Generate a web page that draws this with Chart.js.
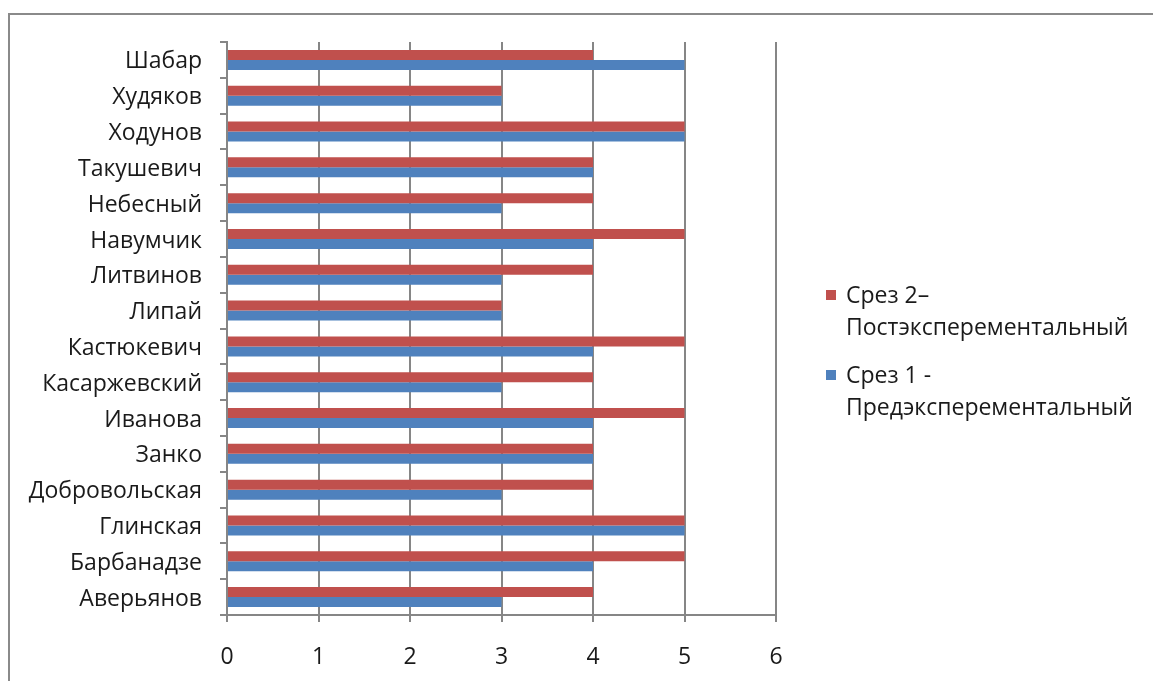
<!DOCTYPE html>
<html>
<head>
<meta charset="utf-8">
<script src="https://cdn.jsdelivr.net/npm/chart.js@4.4.0/dist/chart.umd.min.js"></script>
<style>
    html, body { margin: 0; padding: 0; background: #fff; }
    body { width: 1153px; height: 681px; position: relative; overflow: hidden; font-family: 'Open Sans', sans-serif; }
    #frame { position: absolute; left: 8px; top: 13px; width: 1200px; height: 720px; border-left: 2px solid #8a8a8a; border-top: 2px solid #8a8a8a; }
    #wrap { position: absolute; left: 0; top: 0; width: 1153px; height: 681px; }
    #legend { position: absolute; left: 826px; top: 278px; font-size: 23px; color: #1a1a1a; line-height: 32px; }
    #legend .item { position: relative; padding-left: 20px; margin-bottom: 16px; }
    #legend .box { position: absolute; left: 0; top: 12px; width: 10px; height: 10px; }
</style>
</head>
<body>
<div id="frame"></div>
<div id="wrap"><canvas id="chart"></canvas></div>
<div id="legend"></div>
<script>
// Categories (top to bottom as drawn)
const students = ['Шабар', 'Худяков', 'Ходунов', 'Такушевич', 'Небесный', 'Навумчик', 'Литвинов', 'Липай',
    'Кастюкевич', 'Касаржевский', 'Иванова', 'Занко', 'Добровольская', 'Глинская', 'Барбанадзе', 'Аверьянов'];

// Series values
const post = [4, 3, 5, 4, 4, 5, 4, 3, 5, 4, 5, 4, 4, 5, 5, 4];
const pre  = [5, 3, 5, 4, 3, 4, 3, 3, 4, 3, 4, 4, 3, 5, 4, 3];

const seriesNames = [['Срез 2–', 'Постэксперементальный'], ['Срез 1 -', 'Предэксперементальный']];
const xTicks = [0, 1, 2, 3, 4, 5, 6];

const gridColor = '#868686';
const font = { family: "'Open Sans', sans-serif", size: 23 };

const ctx = document.getElementById('chart').getContext('2d');
const chart = new Chart(ctx, {
    type: 'bar',
    data: {
        labels: students,
        datasets: [
            { label: seriesNames[0].join(' '), data: post, backgroundColor: '#C0504D' },
            { label: seriesNames[1].join(' '), data: pre, backgroundColor: '#4F81BD' }
        ]
    },
    options: {
        indexAxis: 'y',
        responsive: true,
        maintainAspectRatio: false,
        animation: false,
        datasets: {
            bar: { categoryPercentage: 0.56, barPercentage: 1 }
        },
        layout: { padding: { left: 0, right: 377, top: 42, bottom: 0 } },
        plugins: {
            legend: { display: false },
            tooltip: { enabled: false }
        },
        scales: {
            x: {
                min: 0,
                max: 6,
                afterBuildTicks: scale => { scale.ticks = xTicks.map(v => ({ value: v })); },
                afterFit: scale => { scale.height = 66; },
                ticks: { color: '#1a1a1a', font: font, padding: 22 },
                grid: { color: gridColor, lineWidth: 2, tickLength: 7, drawTicks: true },
                border: { color: gridColor, width: 2 }
            },
            y: {
                afterFit: scale => { scale.width = 227; },
                ticks: { color: '#1a1a1a', font: font, padding: 18, labelOffset: 2 },
                grid: { color: gridColor, lineWidth: 2, tickLength: 7, drawOnChartArea: false, drawTicks: true },
                border: { color: gridColor, width: 2 }
            }
        }
    }
});

// Legend as HTML so the names can wrap onto two lines
const legend = document.getElementById('legend');
chart.data.datasets.forEach((ds, i) => {
    const item = document.createElement('div');
    item.className = 'item';
    const box = document.createElement('span');
    box.className = 'box';
    box.style.background = ds.backgroundColor;
    item.appendChild(box);
    seriesNames[i].forEach(line => {
        const d = document.createElement('div');
        d.textContent = line;
        item.appendChild(d);
    });
    legend.appendChild(item);
});
</script>
</body>
</html>
